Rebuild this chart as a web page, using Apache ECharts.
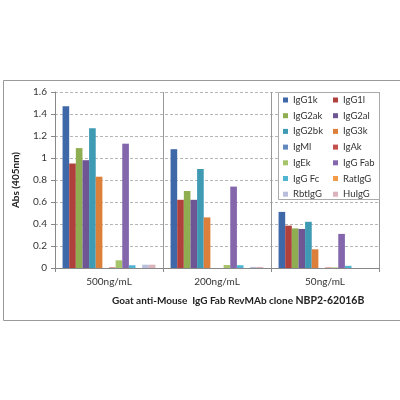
<!DOCTYPE html>
<html><head><meta charset="utf-8">
<script src="https://cdn.jsdelivr.net/npm/echarts@6/dist/echarts.min.js"></script>
<style>html,body{margin:0;padding:0;background:#fff}#c{width:400px;height:400px}</style>
</head><body><div id="c"></div>
<script>
const categories = ['500ng/mL', '200ng/mL', '50ng/mL'];
const seriesNames = ['IgG1k','IgG1l','IgG2ak','IgG2al','IgG2bk','IgG3k','IgMl','IgAk','IgEk','IgG Fab','IgG Fc','RatIgG','RbtIgG','HuIgG'];
const IgG1k  = [1.47, 1.08, 0.51];
const IgG1l  = [0.95, 0.62, 0.385];
const IgG2ak = [1.09, 0.70, 0.36];
const IgG2al = [0.98, 0.62, 0.355];
const IgG2bk = [1.27, 0.90, 0.42];
const IgG3k  = [0.83, 0.46, 0.17];
const IgMl   = [0.0, 0.0, 0.0];
const IgAk   = [0.005, 0.0, 0.004];
const IgEk   = [0.07, 0.027, 0.005];
const IgGFab = [1.13, 0.74, 0.31];
const IgGFc  = [0.025, 0.025, 0.02];
const RatIgG = [0.0, 0.0, 0.0];
const RbtIgG = [0.03, 0.01, 0.0];
const HuIgG  = [0.03, 0.01, 0.0];
const yTicks = [0, 0.2, 0.4, 0.6, 0.8, 1, 1.2, 1.4, 1.6];
const allValues = [IgG1k, IgG1l, IgG2ak, IgG2al, IgG2bk, IgG3k, IgMl, IgAk, IgEk, IgGFab, IgGFc, RatIgG, RbtIgG, HuIgG];
const colors = ['#3f68a8','#b0403c','#8fae52','#6e5694','#3f9ab4','#dc7f3a','#6288c0','#c4504c','#a6c46a','#8466ac','#4fb5d2','#f49b48','#b8bedb','#dbb3bc'];

const FONT = 'Lato, "Open Sans", sans-serif';
const chart = echarts.init(document.getElementById('c'), null, {renderer: 'canvas'});
const legendText = {fontFamily: FONT, fontSize: 9.5, color: '#333', lineHeight: 12};
chart.setOption({
  animation: false,
  color: colors,
  title: {
    text: '{a|Goat anti-Mouse  IgG Fab RevMAb clone }{b|NBP2-62016B}',
    left: 107, top: 290,
    textStyle: {
      rich: {
        a: {fontFamily: FONT, fontSize: 10, fontWeight: 'bold', color: '#222'},
        b: {fontFamily: FONT, fontSize: 10.5, fontWeight: 'bold', color: '#222'}
      }
    }
  },
  graphic: [
    {type: 'rect', left: 1, top: 78, shape: {width: 397, height: 240}, style: {fill: 'none', stroke: '#999', lineWidth: 1}, z: 0, silent: true},
    {type: 'rect', left: 278, top: 92, shape: {width: 101, height: 107}, style: {fill: '#fff', stroke: '#aaa', lineWidth: 1}, z: 3, silent: true}
  ],
  legend: [
    {orient: 'vertical', left: 283, top: 94, padding: 0, itemWidth: 5, itemHeight: 5, itemGap: 3.7, icon: 'rect', z: 5,
     data: seriesNames.filter((n, i) => i % 2 === 0), textStyle: legendText, selectedMode: false},
    {orient: 'vertical', left: 333, top: 94, padding: 0, itemWidth: 5, itemHeight: 5, itemGap: 3.7, icon: 'rect', z: 5,
     data: seriesNames.filter((n, i) => i % 2 === 1), textStyle: legendText, selectedMode: false}
  ],
  grid: {left: 55, right: 21, top: 92, bottom: 132, containLabel: false},
  xAxis: {
    type: 'category', data: categories,
    axisLine: {lineStyle: {color: '#888'}},
    axisTick: {show: true, length: 4, lineStyle: {color: '#888'}},
    axisLabel: {fontFamily: FONT, fontSize: 10, color: '#333', margin: 9},
    splitLine: {show: true, lineStyle: {color: '#999', width: 1}}
  },
  yAxis: {
    type: 'value', min: 0, max: 1.6, interval: 0.2,
    name: 'Abs (405nm)', nameLocation: 'middle', nameGap: 34, nameRotate: 90,
    nameTextStyle: {fontFamily: FONT, fontSize: 10, fontWeight: 'bold', color: '#222'},
    axisLine: {show: true, lineStyle: {color: '#888'}},
    axisTick: {show: true, length: 4, lineStyle: {color: '#888'}},
    axisLabel: {fontFamily: FONT, fontSize: 10, color: '#333', margin: 8,
      formatter: v => { const t = yTicks.find(x => Math.abs(x - v) < 1e-9); return String(t !== undefined ? t : v); }},
    splitLine: {show: true, lineStyle: {color: '#b5b5b5', type: [3, 2], width: 1}}
  },
  series: seriesNames.map((n, i) => ({
    name: n, type: 'bar', data: allValues[i],
    barGap: '0%', barCategoryGap: '14%', z: 2
  }))
});
</script></body></html>
